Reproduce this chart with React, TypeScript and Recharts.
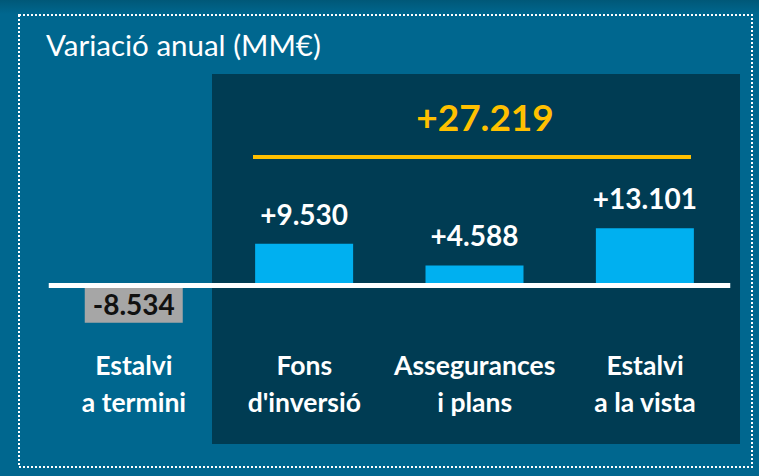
import React from 'react';
import { BarChart, Bar, XAxis, YAxis, ReferenceLine, LabelList, Cell } from 'recharts';

const title = 'Variació anual (MM€)';
const categories = ['Estalvi\na termini', "Fons\nd'inversió", 'Assegurances\ni plans', 'Estalvi\na la vista'];
const values = [-8534, 9530, 4588, 13101];
const total = 27219;

const data = categories.map((c, i) => ({ name: c, value: values[i] }));

const FONT = 'Lato, "Noto Sans", sans-serif';
const OUTER = '#00678f';
const PANEL = '#003c53';
const BLUE = '#00b0f0';
const GREY = '#a6a6a6';
const YELLOW = '#ffc000';

const fmt = (n: number) => {
  const s = Math.abs(n).toString().replace(/\B(?=(\d{3})+(?!\d))/g, '.');
  return (n < 0 ? '-' : '+') + s;
};

const CatTick = (props: any) => {
  const { x, y, payload } = props;
  const lines = String(payload.value).split('\n');
  return (
    <g>
      {lines.map((l, i) => (
        <text key={i} x={x} y={y + 46 + i * 37} textAnchor="middle" fill="#ffffff"
          style={{ fontFamily: FONT, fontWeight: 700, fontSize: 26.5 }}>{l}</text>
      ))}
    </g>
  );
};

const ValueLabel = (props: any) => {
  const { x, y, width, height, value } = props;
  const cx = x + width / 2;
  if (value < 0) {
    return (
      <text x={cx} y={y + height / 2} textAnchor="middle" dominantBaseline="central" fill="#111111"
        style={{ fontFamily: FONT, fontWeight: 700, fontSize: 28 }}>{fmt(value)}</text>
    );
  }
  return (
    <text x={cx} y={y - 30} textAnchor="middle" dominantBaseline="central" fill="#ffffff"
      style={{ fontFamily: FONT, fontWeight: 700, fontSize: 28 }}>{fmt(value)}</text>
  );
};

export default function App() {
  return (
    <div style={{ position: 'absolute', left: 0, top: 0, width: 759, height: 476, background: OUTER, overflow: 'hidden' }}>
      <svg width={759} height={476} style={{ position: 'absolute', left: 0, top: 0 }}>
        <defs>
          <linearGradient id="topg" x1="0" y1="0" x2="0" y2="1">
            <stop offset="0" stopColor="#005878" />
            <stop offset="1" stopColor={OUTER} />
          </linearGradient>
        </defs>
        <rect x={0} y={0} width={759} height={14} fill="url(#topg)" />
        <rect x={19} y={15} width={733} height={452} fill="none" stroke="#ffffff" strokeWidth={2} strokeDasharray="2 2" />
        <rect x={212} y={74} width={528} height={370} fill={PANEL} />
        <text x={46} y={56} fill="#ffffff" style={{ fontFamily: FONT, fontSize: 29.5 }}>{title}</text>
        <text x={485} y={116} textAnchor="middle" dominantBaseline="central" fill={YELLOW}
          style={{ fontFamily: FONT, fontWeight: 700, fontSize: 37 }}>{fmt(total)}</text>
        <rect x={253} y={155} width={438} height={4} fill={YELLOW} />
      </svg>
      <div style={{ position: 'absolute', left: 0, top: 0 }}>
        <BarChart width={759} height={476} data={data}
          margin={{ top: 110.5, right: 28.75, left: 48.75, bottom: 46.75 }}>
          <YAxis hide domain={[-10000, 40000]} type="number" />
          <XAxis dataKey="name" axisLine={false} tickLine={false} tickSize={0} tickMargin={0}
            height={100} interval={0} tick={<CatTick />} />
          <Bar dataKey="value" barSize={98} isAnimationActive={false}>
            {data.map((d, i) => (
              <Cell key={i} fill={d.value < 0 ? GREY : BLUE} />
            ))}
            <LabelList dataKey="value" content={<ValueLabel />} />
          </Bar>
          <ReferenceLine y={0} stroke="#ffffff" strokeWidth={5} />
        </BarChart>
      </div>
    </div>
  );
}
